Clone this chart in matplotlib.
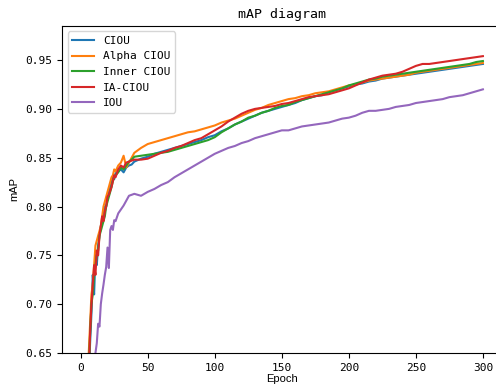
import matplotlib
matplotlib.use("Agg")
import matplotlib.pyplot as plt

epochs = [1, 4, 6, 7, 8, 9, 10, 11, 12, 13, 14, 15, 16, 17, 18, 19, 20, 21, 22, 23,
          24, 25, 26, 28, 30, 32, 34, 36, 38, 40,
          45, 50, 55, 60, 65, 70, 75, 80, 85, 90, 95, 100, 105, 110, 115, 120, 125,
          130, 135, 140, 145, 150, 155, 160, 165, 170, 175, 180, 185, 190, 195, 200,
          205, 210, 215, 220, 225, 230, 235, 240, 245, 250, 255, 260, 265, 270, 275,
          280, 285, 290, 295, 300]

ciou = [0.05, 0.40, 0.62, 0.66, 0.69, 0.73, 0.71, 0.75, 0.74, 0.76, 0.77, 0.78, 0.785, 0.79,
        0.80, 0.80, 0.81, 0.815, 0.82, 0.825, 0.83, 0.828, 0.834, 0.836, 0.838, 0.835, 0.840,
        0.842, 0.843, 0.846,
        0.849, 0.851, 0.854, 0.856, 0.858, 0.860, 0.862, 0.864, 0.866, 0.868, 0.871, 0.873,
        0.877, 0.880, 0.884, 0.887, 0.890, 0.893, 0.896, 0.898, 0.900, 0.902, 0.904, 0.906,
        0.909, 0.911, 0.913, 0.914, 0.917, 0.919, 0.921, 0.923, 0.925, 0.926, 0.928, 0.929,
        0.931, 0.932, 0.933, 0.934, 0.935, 0.936, 0.937, 0.938, 0.939, 0.940, 0.941, 0.942,
        0.943, 0.944, 0.945, 0.946]

alpha_ciou = [0.05, 0.50, 0.65, 0.68, 0.71, 0.72, 0.74, 0.76, 0.765, 0.77, 0.775, 0.78, 0.79,
              0.80, 0.805, 0.81, 0.815, 0.82, 0.825, 0.83, 0.832, 0.838, 0.836, 0.842, 0.845,
              0.852, 0.840, 0.845, 0.850, 0.855,
              0.860, 0.864, 0.866, 0.868, 0.870, 0.872, 0.874, 0.876, 0.877, 0.879, 0.881,
              0.883, 0.886, 0.888, 0.890, 0.893, 0.896, 0.899, 0.901, 0.904, 0.906, 0.908,
              0.910, 0.911, 0.913, 0.914, 0.916, 0.917, 0.918, 0.920, 0.922, 0.924, 0.925,
              0.927, 0.929, 0.930, 0.931, 0.932, 0.933, 0.934, 0.935, 0.937, 0.938, 0.939,
              0.940, 0.941, 0.942, 0.943, 0.944, 0.945, 0.946, 0.947]

inner_ciou = [0.05, 0.42, 0.63, 0.67, 0.70, 0.71, 0.73, 0.74, 0.75, 0.755, 0.77, 0.775, 0.78,
              0.785, 0.79, 0.80, 0.805, 0.81, 0.815, 0.82, 0.826, 0.83, 0.832, 0.835, 0.840,
              0.838, 0.842, 0.846, 0.848, 0.851,
              0.852, 0.853, 0.854, 0.855, 0.856, 0.858, 0.860, 0.862, 0.864, 0.866, 0.868,
              0.871, 0.876, 0.880, 0.884, 0.887, 0.891, 0.893, 0.896, 0.898, 0.901, 0.903,
              0.904, 0.907, 0.909, 0.911, 0.913, 0.915, 0.917, 0.919, 0.921, 0.924, 0.926,
              0.928, 0.930, 0.931, 0.933, 0.934, 0.935, 0.936, 0.937, 0.938, 0.939, 0.940,
              0.941, 0.942, 0.943, 0.944, 0.945, 0.946, 0.948, 0.949]

ia_ciou = [0.05, 0.45, 0.63, 0.67, 0.70, 0.72, 0.74, 0.73, 0.755, 0.75, 0.77, 0.78, 0.79,
           0.785, 0.795, 0.80, 0.81, 0.812, 0.816, 0.82, 0.826, 0.832, 0.830, 0.838, 0.842,
           0.840, 0.845, 0.846, 0.847, 0.848,
           0.848, 0.849, 0.852, 0.855, 0.857, 0.860, 0.862, 0.865, 0.868, 0.870, 0.874,
           0.878, 0.882, 0.887, 0.891, 0.895, 0.898, 0.900, 0.901, 0.902, 0.903, 0.905,
           0.906, 0.908, 0.910, 0.912, 0.913, 0.914, 0.915, 0.917, 0.919, 0.921, 0.924,
           0.927, 0.930, 0.932, 0.934, 0.935, 0.936, 0.938, 0.941, 0.944, 0.946, 0.946,
           0.947, 0.948, 0.949, 0.950, 0.951, 0.952, 0.953, 0.954]

iou = [0.05, 0.20, 0.40, 0.50, 0.56, 0.60, 0.64, 0.65, 0.66, 0.68, 0.677, 0.70, 0.711, 0.72,
       0.73, 0.738, 0.758, 0.737, 0.776, 0.780, 0.776, 0.786, 0.785, 0.793, 0.797, 0.801,
       0.806, 0.811, 0.812, 0.813,
       0.811, 0.815, 0.818, 0.822, 0.825, 0.830, 0.834, 0.838, 0.842, 0.846, 0.850, 0.854,
       0.857, 0.860, 0.862, 0.865, 0.867, 0.870, 0.872, 0.874, 0.876, 0.878, 0.878, 0.880,
       0.882, 0.883, 0.884, 0.885, 0.886, 0.888, 0.890, 0.891, 0.893, 0.896, 0.898, 0.898,
       0.899, 0.900, 0.902, 0.903, 0.904, 0.906, 0.907, 0.908, 0.909, 0.910, 0.912, 0.913,
       0.914, 0.916, 0.918, 0.920]

series = [("CIOU", ciou), ("Alpha CIOU", alpha_ciou), ("Inner CIOU", inner_ciou),
          ("IA-CIOU", ia_ciou), ("IOU", iou)]
colors = ["#1f77b4", "#ff7f0e", "#2ca02c", "#d62728", "#9467bd"]

mono = "DejaVu Sans Mono"

fig = plt.figure(figsize=(4.96, 3.92), dpi=100)
# axes runs past the right edge, like the cropped original
ax = fig.add_axes([0.125, 0.0995, 0.889, 0.8345])

for (name, vals), c in zip(series, colors):
    ax.plot(epochs, vals, color=c, lw=1.5, label=name)

ax.set_ylim(0.65, 0.985)
ax.set_yticks([0.65, 0.70, 0.75, 0.80, 0.85, 0.90, 0.95])
ax.set_xticks([0, 50, 100, 150, 200, 250, 300])
for lab in ax.get_xticklabels() + ax.get_yticklabels():
    lab.set_fontfamily(mono)
    lab.set_fontsize(8)

ax.set_title("mAP diagram", fontfamily=mono, fontsize=9.5)
ax.set_xlabel("Epoch", fontfamily="Liberation Sans", fontsize=8, labelpad=1)
ax.set_ylabel("mAP", fontfamily="Liberation Sans", fontsize=8)

ax.legend(loc="upper left", prop={"family": mono, "size": 8})

fig.savefig("out.png", dpi=100)
